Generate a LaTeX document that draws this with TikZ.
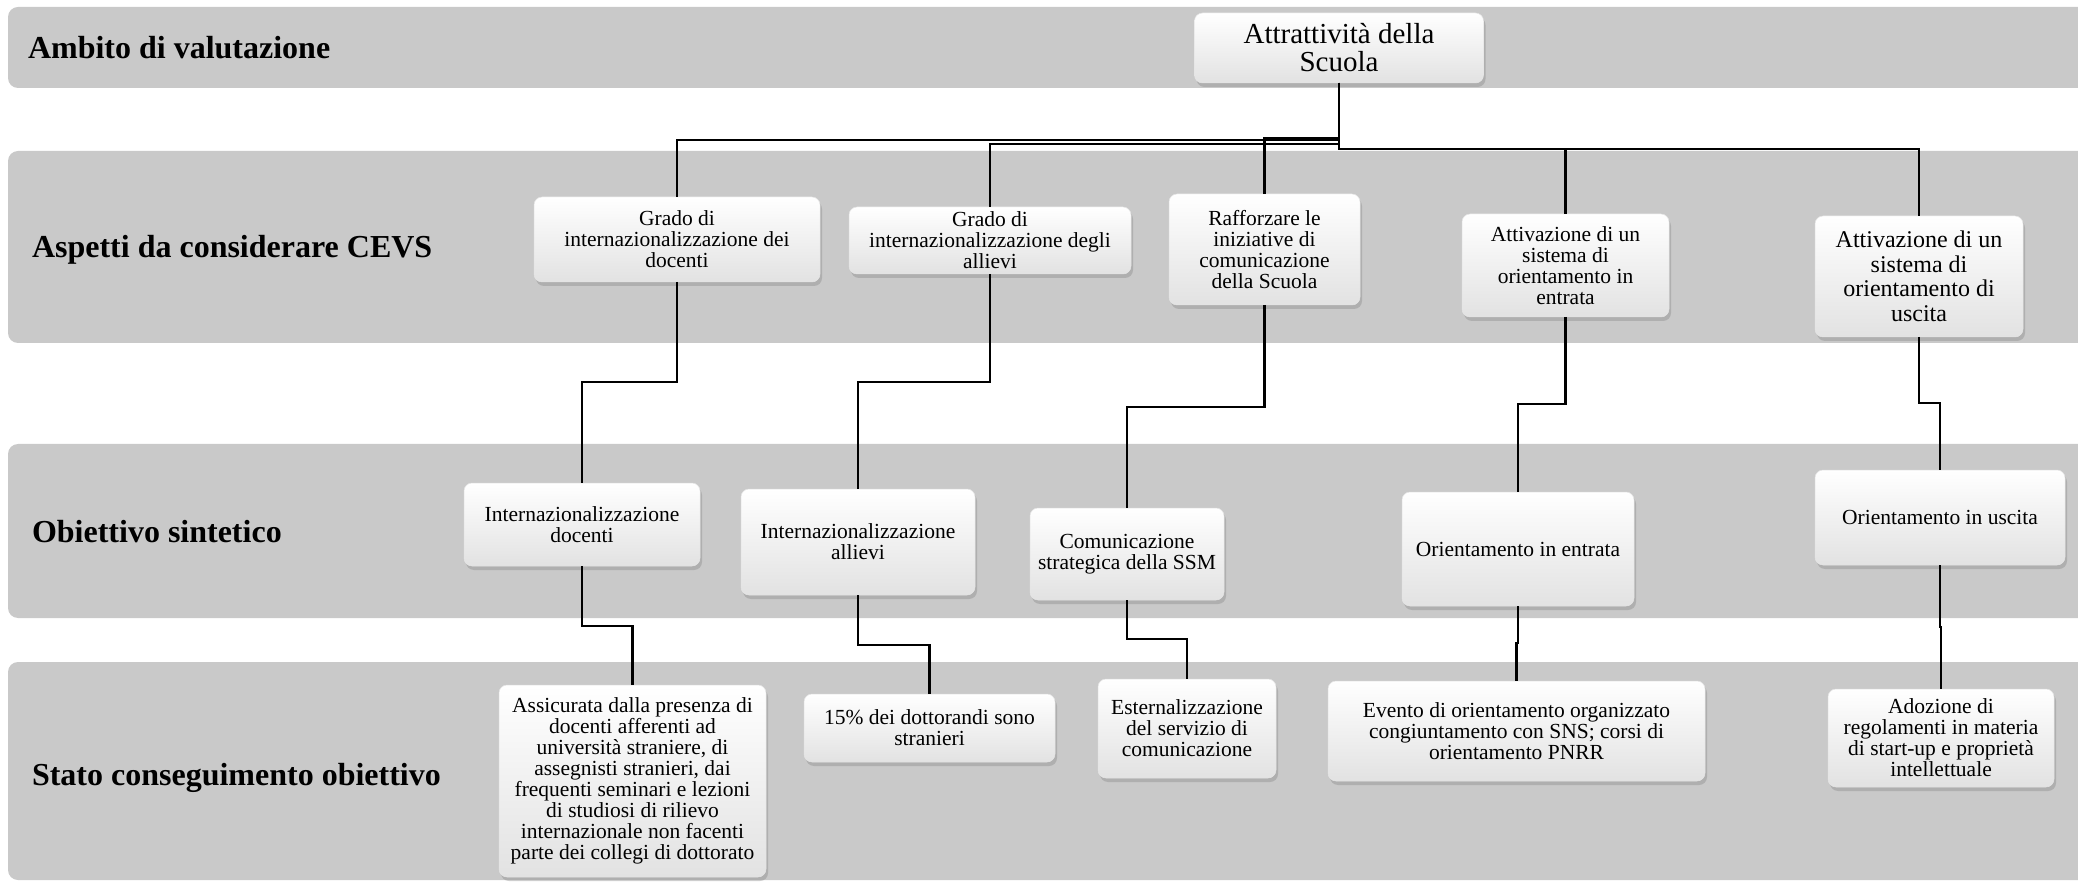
\documentclass[tikz,border=0pt]{standalone}
\usepackage{fontspec}
\setmainfont{Liberation Serif}
\usetikzlibrary{shadows}

\definecolor{bandgray}{RGB}{201,201,201}
\definecolor{boxbottom}{RGB}{226,226,226}

\begin{document}
\begin{tikzpicture}[
    x = 1pt, y = -1pt,
    outer sep = 0mm, inner sep = 0mm,
    band/.style = {fill = bandgray, rounded corners = 10pt},
    bandlabel/.style = {anchor = west, font = \fontsize{32pt}{34pt}\selectfont\bfseries},
    box/.style = {
      rectangle, rounded corners = 8pt, align = center,
      top color = white, bottom color = boxbottom,
      draw = gray!20, line width = .5pt,
      drop shadow = {shadow xshift = 2pt, shadow yshift = -4pt, opacity = .35},
      font = \fontsize{21.5pt}{21pt}\selectfont,
    },
    conn/.style = {draw = black, line width = 2.2pt},
  ]

  \useasboundingbox (0,0) rectangle (2078,882);
  \clip (0,0) rectangle (2078,882);
  \fill[white] (0,0) rectangle (2078,882);

  % bands
  \fill[band] (8,7) rectangle (2110,88);
  \fill[band] (8,151) rectangle (2110,343);
  \fill[band] (8,444) rectangle (2110,618);
  \fill[band] (8,662) rectangle (2110,880);

  \node[bandlabel] (lab1) at (28,48) {Ambito di valutazione};
  \node[bandlabel] (lab2) at (32,250) {Aspetti da considerare CEVS};
  \node[bandlabel] (lab3) at (32,532) {Obiettivo sintetico};
  \node[bandlabel] (lab4) at (32,778) {Stato conseguimento obiettivo};

  % ambito
  \node[box, minimum width = 289, minimum height = 70,
    font = \fontsize{29pt}{28pt}\selectfont] (root) at (1339,48) {Attrattività della\\Scuola};

  % aspetti
  \node[box, minimum width = 286, minimum height = 85] (gdoc) at (677,239.5)
    {Grado di\\internazionalizzazione dei\\docenti};
  \node[box, minimum width = 282, minimum height = 67] (gall) at (990,240.5)
    {Grado di\\internazionalizzazione degli\\allievi};
  \node[box, minimum width = 191, minimum height = 111] (raff) at (1264.5,249.5)
    {Rafforzare le\\iniziative di\\comunicazione\\della Scuola};
  \node[box, minimum width = 207, minimum height = 103] (attE) at (1565.5,265.5)
    {Attivazione di un\\sistema di\\orientamento in\\entrata};
  \node[box, minimum width = 208, minimum height = 121,
    font = \fontsize{24pt}{24.5pt}\selectfont] (attU) at (1919,276.5)
    {Attivazione di un\\sistema di\\orientamento di\\uscita};

  % obiettivi
  \node[box, minimum width = 236, minimum height = 83] (idoc) at (582,524.5)
    {Internazionalizzazione\\docenti};
  \node[box, minimum width = 234, minimum height = 106] (iall) at (858,542)
    {Internazionalizzazione\\allievi};
  \node[box, minimum width = 194, minimum height = 92] (comm) at (1127,554)
    {Comunicazione\\strategica della SSM};
  \node[box, minimum width = 232, minimum height = 114] (oriE) at (1518,549)
    {Orientamento in entrata};
  \node[box, minimum width = 250, minimum height = 95] (oriU) at (1940,517.5)
    {Orientamento in uscita};

  % stato
  \node[box, minimum width = 267, minimum height = 192] (ass) at (632.5,781)
    {Assicurata dalla presenza di\\docenti afferenti ad\\università straniere, di\\assegnisti stranieri, dai\\frequenti seminari e lezioni\\di studiosi di rilievo\\internazionale non facenti\\parte dei collegi di dottorato};
  \node[box, minimum width = 251, minimum height = 68] (pct) at (929.5,728)
    {15\% dei dottorandi sono\\stranieri};
  \node[box, minimum width = 178, minimum height = 99] (est) at (1187,728.5)
    {Esternalizzazione\\del servizio di\\comunicazione};
  \node[box, minimum width = 377, minimum height = 100] (eve) at (1516.5,731)
    {Evento di orientamento organizzato\\congiuntamento con SNS; corsi di\\orientamento PNRR};
  \node[box, minimum width = 226, minimum height = 98] (ado) at (1941,738)
    {Adozione di\\regolamenti in materia\\di start-up e proprietà\\intellettuale};

  % connectors
  \draw[conn] (root.south) -- ++(0,57) -| (gdoc.north);
  \draw[conn] (root.south) -- ++(0,61) -| (gall.north);
  \draw[conn] (root.south) -- ++(0,55) -| (raff.north);
  \draw[conn] (root.south) -- ++(0,66) -| (attE.north);
  \draw[conn] (root.south) -- ++(0,66) -| (attU.north);

  \draw[conn] (gdoc.south) -- ++(0,100) -| (idoc.north);
  \draw[conn] (gall.south) -- ++(0,108) -| (iall.north);
  \draw[conn] (raff.south) -- ++(0,102) -| (comm.north);
  \draw[conn] (attE.south) -- ++(0,87) -| (oriE.north);
  \draw[conn] (attU.south) -- ++(0,66) -| (oriU.north);

  \draw[conn] (idoc.south) -- ++(0,60) -| (ass.north);
  \draw[conn] (iall.south) -- ++(0,50) -| (pct.north);
  \draw[conn] (comm.south) -- ++(0,39) -| (est.north);
  \draw[conn] (oriE.south) -- ++(0,37) -| (eve.north);
  \draw[conn] (oriU.south) -- ++(0,62) -| (ado.north);
\end{tikzpicture}
\end{document}
